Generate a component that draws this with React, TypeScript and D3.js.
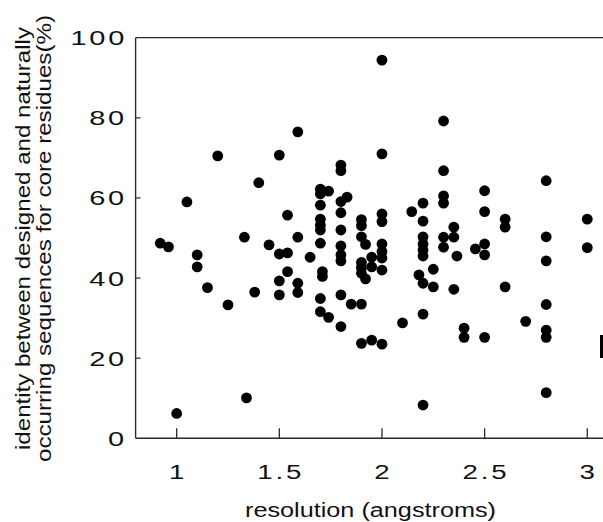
import React from 'react';
import * as d3 from 'd3';

// resolution (angstroms) of each structure, column by column
const resolution = [
  0.92, 0.96, 1.0, 1.05, 1.1, 1.1, 1.15, 1.2, 1.25, 1.33, 1.34, 1.38, 1.4, 1.45,
  1.5, 1.5, 1.5, 1.5,
  1.54, 1.54, 1.54,
  1.59, 1.59, 1.59, 1.59,
  1.65,
  1.7, 1.7, 1.7, 1.7, 1.7, 1.7, 1.7, 1.7, 1.7,
  1.71, 1.71,
  1.74, 1.74,
  1.8, 1.8, 1.8, 1.8, 1.8, 1.8, 1.8, 1.8, 1.8, 1.8,
  1.83,
  1.85,
  1.9, 1.9, 1.9, 1.9, 1.9, 1.9, 1.9, 1.9,
  1.92, 1.92,
  1.95, 1.95, 1.95,
  2.0, 2.0, 2.0, 2.0, 2.0, 2.0, 2.0, 2.0, 2.0,
  2.1,
  2.145,
  2.2, 2.2, 2.2, 2.2, 2.2, 2.2, 2.2, 2.2, 2.2,
  2.18,
  2.25, 2.25,
  2.3, 2.3, 2.3, 2.3, 2.3, 2.3,
  2.35, 2.35, 2.35,
  2.365,
  2.4, 2.4,
  2.455,
  2.5, 2.5, 2.5, 2.5, 2.5,
  2.6, 2.6, 2.6,
  2.7,
  2.8, 2.8, 2.8, 2.8, 2.8, 2.8, 2.8,
  3.0, 3.0,
];

// identity between designed and natural core sequences (%)
const identity = [
  48.7, 47.8, 6.2, 59.0, 45.8, 42.8, 37.6, 70.5, 33.3, 50.2, 10.1, 36.5, 63.8, 48.3,
  70.7, 46.0, 39.3, 35.8,
  55.7, 46.3, 41.6,
  76.5, 50.2, 38.7, 36.4,
  45.2,
  62.2, 61.0, 58.2, 54.7, 53.2, 52.0, 48.7, 34.9, 31.6,
  41.6, 40.4,
  61.7, 30.2,
  68.2, 66.8, 59.1, 56.3, 52.0, 48.0, 45.8, 44.3, 35.8, 27.9,
  60.2,
  33.5,
  54.6, 53.1, 50.3, 43.9, 42.6, 41.2, 33.5, 23.7,
  48.4, 39.8,
  45.2, 42.8, 24.5,
  94.4, 71.0, 56.0, 54.1, 48.5, 46.6, 45.0, 42.0, 23.5,
  28.8,
  56.6,
  58.7, 54.2, 50.3, 48.5, 47.0, 45.5, 38.7, 31.0, 8.3,
  40.8,
  42.2, 37.8,
  79.2, 66.8, 60.5, 58.7, 50.2, 47.7,
  52.7, 50.2, 37.2,
  45.5,
  27.5, 25.2,
  47.3,
  61.8, 56.6, 48.5, 45.8, 25.2,
  54.7, 52.7, 37.8,
  29.2,
  64.3, 50.3, 44.3, 33.4, 27.0, 25.2, 11.4,
  54.7, 47.6,
];

const xTicks = [1, 1.5, 2, 2.5, 3];
const yTicks = [0, 20, 40, 60, 80, 100];
const xTickLabels = ['1', '1.5', '2', '2.5', '3'];
const yTickLabels = ['0', '20', '40', '60', '80', '100'];
const xTitle = 'resolution (angstroms)';
const yTitleLines = [
  'identity between designed and naturally',
  'occurring sequences for core residues(%)',
];

const FONT = '"Liberation Sans", Arial, Helvetica, sans-serif';

export default function App() {
  const W = 603;
  const H = 522;
  const x = d3.scaleLinear().domain([0.8, 3.1]).range([135.6, 607.8]);
  const y = d3.scaleLinear().domain([0, 100]).range([438.3, 37.7]);
  const [x0] = x.range();
  const axisColor = '#2a2a2a';

  const points = resolution.map((r, i) => ({ r, v: identity[i] }));

  return (
    <svg
      width={W}
      height={H}
      viewBox={`0 0 ${W} ${H}`}
      style={{ position: 'absolute', left: 0, top: 0, background: '#fff' }}
    >
      <rect x={0} y={0} width={W} height={H} fill="#fff" />

      {/* frame: left, top, bottom */}
      <line x1={x0} x2={x0} y1={y(100)} y2={y(0)} stroke={axisColor} strokeWidth={1.4} />
      <line x1={x0} x2={W} y1={y(100)} y2={y(100)} stroke={axisColor} strokeWidth={1.3} />
      <line x1={x0} x2={W} y1={y(0)} y2={y(0)} stroke={axisColor} strokeWidth={1.4} />

      {/* y ticks */}
      {yTicks.map((t, i) => (
        <g key={'yt' + t}>
          {t !== 0 && t !== 100 && (
            <line x1={x0} x2={x0 + 5} y1={y(t)} y2={y(t)} stroke={axisColor} strokeWidth={1.2} />
          )}
          <g transform={`translate(${127},${y(t) + 7.5}) scale(1.38,1)`}>
            <text
              x={0}
              y={0}
              textAnchor="end"
              fontFamily={FONT}
              fontSize={21}
              letterSpacing={2}
              fill="#111"
            >
              {yTickLabels[i]}
            </text>
          </g>
        </g>
      ))}

      {/* x ticks */}
      {xTicks.map((t, i) => (
        <g key={'xt' + t}>
          <line x1={x(t)} x2={x(t)} y1={y(0)} y2={y(0) - 10} stroke={axisColor} strokeWidth={1.3} />
          <g transform={`translate(${x(t) + 1.4},${479}) scale(1.42,1)`}>
            <text
              x={0}
              y={0}
              textAnchor="middle"
              fontFamily={FONT}
              fontSize={19.5}
              letterSpacing={2}
              fill="#111"
            >
              {xTickLabels[i]}
            </text>
          </g>
        </g>
      ))}

      {/* points */}
      {points.map((p, i) => (
        <circle key={i} cx={x(p.r)} cy={y(p.v)} r={5.4} fill="#000" />
      ))}

      {/* fragment at right edge */}
      <rect x={600} y={335} width={4} height={23} fill="#000" />

      {/* x title */}
      <text
        x={370.5}
        y={517}
        textAnchor="middle"
        fontFamily={FONT}
        fontSize={20}
        fill="#111"
        textLength={251}
        lengthAdjust="spacingAndGlyphs"
      >
        {xTitle}
      </text>

      {/* y title */}
      <g transform={`translate(29.5,238.5) rotate(-90)`}>
        <text
          x={0}
          y={0}
          textAnchor="middle"
          fontFamily={FONT}
          fontSize={20}
          fill="#111"
          textLength={423}
          lengthAdjust="spacingAndGlyphs"
        >
          {yTitleLines[0]}
        </text>
      </g>
      <g transform={`translate(51,238.5) rotate(-90)`}>
        <text
          x={0}
          y={0}
          textAnchor="middle"
          fontFamily={FONT}
          fontSize={20}
          fill="#111"
          textLength={447}
          lengthAdjust="spacingAndGlyphs"
        >
          {yTitleLines[1]}
        </text>
      </g>
    </svg>
  );
}
